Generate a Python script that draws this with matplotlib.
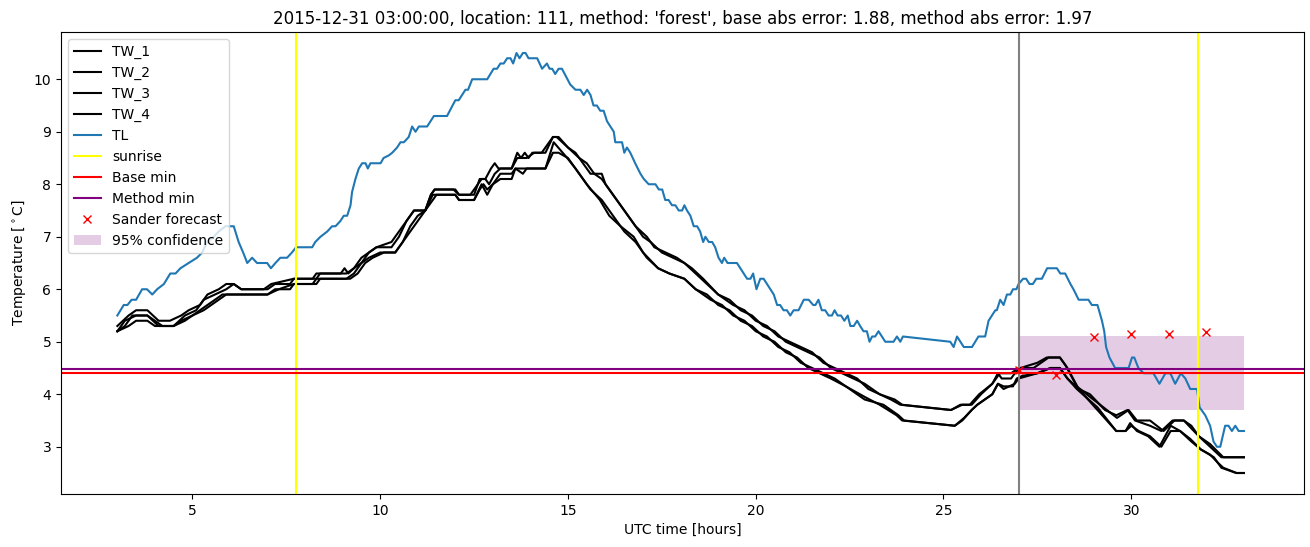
import matplotlib
matplotlib.use("Agg")
import matplotlib.pyplot as plt

# ---------------- data ----------------
tl_time = [3.00, 3.17, 3.27, 3.38, 3.50, 3.66, 3.79, 3.93, 4.06, 4.24, 4.41, 4.55, 4.68, 4.90, 5.12,
           5.26, 5.39, 5.57, 5.70, 5.88, 6.10, 6.23, 6.35, 6.46, 6.59, 6.72, 6.99, 7.09, 7.21, 7.34,
           7.52, 7.65, 7.76, 8.19, 8.27, 8.41, 8.59, 8.72, 8.81, 8.94, 9.03, 9.12, 9.21, 9.25, 9.34,
           9.43, 9.52, 9.61, 9.67, 9.74, 10.01, 10.09, 10.23, 10.32, 10.45, 10.54, 10.63, 10.76, 10.85, 10.94,
           11.03, 11.25, 11.43, 11.78, 12.00, 12.09, 12.27, 12.34, 12.45, 12.85, 13.02, 13.11, 13.20, 13.29, 13.38,
           13.47, 13.54, 13.63, 13.71, 13.80, 13.87, 13.95, 14.18, 14.31, 14.44, 14.51, 14.58, 14.66, 14.75, 14.84,
           15.06, 15.20, 15.33, 15.42, 15.51, 15.60, 15.68, 15.77, 15.86, 15.95, 16.04, 16.13, 16.22, 16.26, 16.44,
           16.50, 16.57, 16.66, 16.79, 16.93, 17.02, 17.15, 17.33, 17.42, 17.51, 17.59, 17.68, 17.77, 17.86, 17.95,
           18.04, 18.10, 18.17, 18.26, 18.35, 18.44, 18.52, 18.60, 18.66, 18.75, 18.84, 18.92, 19.01, 19.10, 19.16,
           19.25, 19.50, 19.59, 19.68, 19.77, 19.86, 19.93, 20.02, 20.12, 20.21, 20.30, 20.39, 20.48, 20.57, 20.65,
           20.74, 20.83, 20.92, 21.01, 21.14, 21.28, 21.41, 21.53, 21.59, 21.67, 21.76, 21.85, 21.94, 22.03, 22.10,
           22.18, 22.27, 22.36, 22.45, 22.52, 22.61, 22.70, 22.78, 22.87, 22.96, 23.03, 23.10, 23.18, 23.27, 23.36,
           23.45, 23.67, 23.76, 23.85, 23.92, 25.18, 25.27, 25.36, 25.45, 25.54, 25.76, 25.93, 26.11, 26.20, 26.29,
           26.38, 26.42, 26.51, 26.60, 26.69, 26.78, 26.85, 26.94, 27.00, 27.12, 27.20, 27.29, 27.38, 27.47, 27.62,
           27.76, 28.02, 28.11, 28.24, 28.38, 28.46, 28.60, 28.86, 28.95, 29.10, 29.22, 29.28, 29.33, 29.42, 29.57,
           29.93, 30.02, 30.08, 30.19, 30.33, 30.59, 30.75, 30.91, 31.04, 31.17, 31.32, 31.44, 31.57, 31.75, 31.82,
           31.97, 32.10, 32.19, 32.28, 32.37, 32.50, 32.59, 32.68, 32.77, 32.86, 33.00]
tl_value = [5.5, 5.7, 5.7, 5.8, 5.8, 6.0, 6.0, 5.9, 6.0, 6.1, 6.3, 6.3, 6.4, 6.5, 6.6,
            6.7, 6.9, 7.0, 7.1, 7.2, 7.2, 6.9, 6.7, 6.5, 6.6, 6.5, 6.5, 6.4, 6.5, 6.6,
            6.6, 6.7, 6.8, 6.8, 6.9, 7.0, 7.1, 7.2, 7.2, 7.3, 7.4, 7.4, 7.6, 7.85, 8.1,
            8.3, 8.4, 8.4, 8.3, 8.4, 8.4, 8.5, 8.55, 8.6, 8.7, 8.8, 8.8, 8.9, 9.1, 9.0,
            9.1, 9.1, 9.3, 9.3, 9.6, 9.6, 9.8, 9.8, 10.0, 10.0, 10.2, 10.2, 10.3, 10.3, 10.4,
            10.4, 10.3, 10.5, 10.4, 10.5, 10.5, 10.4, 10.4, 10.2, 10.3, 10.2, 10.2, 10.1, 10.2, 10.2,
            9.9, 9.8, 9.8, 9.7, 9.8, 9.7, 9.5, 9.5, 9.4, 9.4, 9.2, 9.1, 9.0, 8.8, 8.8,
            8.6, 8.7, 8.6, 8.4, 8.2, 8.1, 8.0, 8.0, 7.9, 7.9, 7.7, 7.7, 7.6, 7.6, 7.5,
            7.5, 7.6, 7.5, 7.4, 7.2, 7.2, 7.1, 6.9, 7.0, 6.9, 6.9, 6.8, 6.6, 6.5, 6.6,
            6.5, 6.5, 6.4, 6.3, 6.2, 6.2, 6.3, 6.0, 6.2, 6.2, 6.1, 6.0, 5.9, 5.7, 5.7,
            5.6, 5.6, 5.5, 5.6, 5.6, 5.8, 5.8, 5.7, 5.7, 5.8, 5.6, 5.6, 5.5, 5.5, 5.6,
            5.5, 5.5, 5.4, 5.5, 5.3, 5.3, 5.4, 5.3, 5.2, 5.2, 5.0, 5.1, 5.1, 5.2, 5.1,
            5.0, 5.0, 5.1, 5.0, 5.1, 5.0, 4.9, 5.1, 5.0, 4.9, 4.9, 5.1, 5.1, 5.4, 5.5,
            5.6, 5.6, 5.8, 5.7, 5.9, 5.9, 6.0, 6.0, 6.1, 6.2, 6.2, 6.1, 6.1, 6.2, 6.2,
            6.4, 6.4, 6.3, 6.3, 6.1, 6.0, 5.8, 5.8, 5.7, 5.7, 5.4, 5.2, 4.9, 4.7, 4.5,
            4.5, 4.7, 4.7, 4.5, 4.4, 4.4, 4.2, 4.4, 4.4, 4.2, 4.4, 4.3, 4.1, 4.1, 3.75,
            3.6, 3.4, 3.1, 3.0, 3.0, 3.4, 3.4, 3.3, 3.4, 3.3, 3.3]

tw1_time = [3.0, 3.3, 3.5, 3.8, 4.1, 4.4, 4.7, 4.9, 5.2, 5.4, 5.7, 5.9, 6.1, 6.3, 7.0, 7.2, 7.6, 7.7,
            8.2, 8.3, 8.95, 9.05, 9.15, 9.3, 9.5, 9.7, 9.9, 10.3, 10.5, 10.7, 10.9, 11.2, 11.35, 11.45,
            11.95, 12.1, 12.4, 12.6, 12.7, 12.8, 12.95, 13.05, 13.15, 13.5, 13.6, 13.65, 13.75, 13.85,
            13.95, 14.05, 14.3, 14.5, 14.6, 14.75, 15.0, 15.2, 15.4, 15.6, 15.9, 16.0, 16.3, 16.5, 16.8,
            17.0, 17.2, 17.5, 17.8, 18.1, 18.3, 18.6, 19.0, 19.3, 19.6, 19.9, 20.2, 20.5, 20.8, 21.1,
            21.4, 21.7, 22.0, 22.3, 22.6, 22.9, 23.3, 23.6, 23.85, 25.2, 25.45, 25.7, 25.95, 26.3, 26.45,
            26.55, 26.8, 26.9, 27.05, 27.5, 27.75, 28.1, 28.25, 28.55, 28.9, 29.35, 29.62, 29.93, 30.15,
            30.5, 30.86, 31.15, 31.4, 31.6, 31.8, 32.1, 32.45, 33.0]
tw1_value = [5.3, 5.5, 5.6, 5.6, 5.4, 5.4, 5.5, 5.6, 5.7, 5.9, 6.0, 6.1, 6.1, 6.0, 6.0, 6.1, 6.1, 6.2,
             6.2, 6.3, 6.3, 6.4, 6.3, 6.4, 6.6, 6.7, 6.8, 6.8, 7.0, 7.3, 7.5, 7.5, 7.8, 7.9,
             7.9, 7.8, 7.8, 8.0, 8.1, 8.1, 8.3, 8.4, 8.3, 8.3, 8.5, 8.6, 8.5, 8.6,
             8.5, 8.6, 8.6, 8.8, 8.9, 8.9, 8.7, 8.6, 8.4, 8.2, 8.2, 8.0, 7.7, 7.5, 7.2,
             7.0, 6.9, 6.7, 6.6, 6.5, 6.4, 6.2, 5.9, 5.8, 5.6, 5.5, 5.3, 5.2, 5.0, 4.9,
             4.8, 4.7, 4.5, 4.4, 4.3, 4.2, 4.0, 3.9, 3.8, 3.7, 3.8, 3.8, 4.0, 4.2, 4.4,
             4.3, 4.3, 4.4, 4.5, 4.6, 4.7, 4.7, 4.55, 4.15, 3.95, 3.7, 3.55, 3.7, 3.5,
             3.5, 3.3, 3.5, 3.5, 3.4, 3.2, 3.05, 2.8, 2.8]

tw2_time = [3.0, 3.2, 3.5, 3.8, 4.1, 4.5, 4.8, 5.1, 5.3, 5.6, 5.9, 6.1, 6.3, 6.9, 7.1, 7.7, 8.3, 8.4,
            9.1, 9.3, 9.5, 9.7, 9.9, 10.3, 10.5, 10.7, 10.9, 11.2, 11.35, 11.45, 12.0, 12.1, 12.5, 12.65,
            12.8, 12.9, 13.05, 13.2, 13.5, 13.65, 13.9, 14.1, 14.4, 14.6, 14.7, 15.0, 15.3, 15.5, 15.7,
            15.9, 16.1, 16.3, 16.6, 16.8, 17.1, 17.3, 17.6, 17.9, 18.1, 18.4, 18.7, 19.0, 19.4, 19.7,
            20.0, 20.3, 20.6, 20.9, 21.2, 21.5, 21.8, 22.1, 22.4, 22.7, 23.0, 23.3, 23.7, 23.9, 25.2,
            25.5, 25.75, 26.0, 26.3, 26.5, 26.8, 27.0, 27.4, 27.6, 27.8, 28.1, 28.3, 28.6, 28.9, 29.3,
            29.6, 29.9, 30.1, 30.5, 30.8, 31.1, 31.4, 31.6, 31.8, 32.1, 32.4, 33.0]
tw2_value = [5.2, 5.4, 5.5, 5.5, 5.3, 5.3, 5.5, 5.6, 5.8, 5.9, 6.0, 6.1, 6.0, 6.0, 6.1, 6.2, 6.2, 6.3,
             6.3, 6.4, 6.5, 6.7, 6.8, 6.9, 7.1, 7.3, 7.5, 7.5, 7.8, 7.9, 7.9, 7.8, 7.8, 8.1,
             8.1, 8.0, 8.2, 8.3, 8.3, 8.5, 8.5, 8.6, 8.6, 8.9, 8.9, 8.7, 8.5, 8.4, 8.2,
             8.1, 7.9, 7.7, 7.4, 7.2, 7.0, 6.8, 6.7, 6.6, 6.5, 6.3, 6.1, 5.9, 5.7, 5.6,
             5.4, 5.3, 5.1, 5.0, 4.9, 4.8, 4.6, 4.5, 4.4, 4.3, 4.1, 4.0, 3.9, 3.8, 3.7,
             3.8, 3.8, 4.0, 4.2, 4.4, 4.4, 4.5, 4.5, 4.6, 4.7, 4.7, 4.5, 4.1, 4.0, 3.7,
             3.6, 3.7, 3.5, 3.4, 3.3, 3.5, 3.5, 3.35, 3.2, 3.0, 2.8, 2.8]

tw3_time = [3.0, 3.2, 3.4, 3.8, 4.0, 4.2, 4.5, 4.7, 5.0, 5.2, 5.4, 5.6, 5.8, 7.0, 7.2, 7.6, 7.7, 8.2,
            8.3, 9.1, 9.3, 9.5, 9.7, 10.0, 10.4, 10.6, 10.8, 11.0, 11.2, 11.4, 12.0, 12.1, 12.5, 12.65,
            12.75, 12.85, 13.0, 13.2, 13.5, 13.6, 13.8, 14.4, 14.62, 14.98, 15.2, 15.5, 15.85, 16.1,
            16.4, 16.75, 17.0, 17.2, 17.4, 17.7, 18.1, 18.4, 18.7, 19.0, 19.3, 19.6, 19.9, 20.2, 20.5,
            20.8, 21.1, 21.4, 21.7, 22.0, 22.4, 22.9, 23.3, 23.75, 23.9, 25.3, 25.55, 25.75, 25.9, 26.3,
            26.45, 26.6, 26.85, 26.95, 27.1, 27.5, 27.85, 28.1, 28.3, 28.55, 29.1, 29.6, 29.85, 29.97,
            30.15, 30.45, 30.75, 31.05, 31.3, 31.57, 31.85, 32.1, 32.3, 32.45, 32.8, 33.0]
tw3_value = [5.2, 5.3, 5.5, 5.5, 5.4, 5.3, 5.3, 5.4, 5.5, 5.6, 5.7, 5.8, 5.9, 5.9, 6.0, 6.0, 6.1, 6.1,
             6.2, 6.2, 6.3, 6.5, 6.6, 6.7, 6.7, 6.9, 7.2, 7.4, 7.5, 7.8, 7.8, 7.7, 7.7, 7.9,
             8.0, 7.9, 8.0, 8.2, 8.2, 8.3, 8.3, 8.3, 8.8, 8.5, 8.3, 8.0, 7.7, 7.4,
             7.2, 7.0, 6.7, 6.55, 6.4, 6.3, 6.2, 6.0, 5.9, 5.7, 5.6, 5.4, 5.3, 5.1, 5.0,
             4.8, 4.7, 4.5, 4.4, 4.3, 4.15, 3.95, 3.8, 3.6, 3.5, 3.4, 3.55, 3.7, 3.8, 4.0,
             4.2, 4.15, 4.15, 4.3, 4.35, 4.4, 4.5, 4.5, 4.3, 4.1, 3.75, 3.3, 3.3, 3.45,
             3.3, 3.2, 3.0, 3.4, 3.3, 3.15, 2.95, 2.85, 2.7, 2.6, 2.5, 2.5]

tw4_time = [3.0, 3.3, 3.5, 3.8, 4.0, 4.5, 4.8, 5.0, 5.3, 5.5, 5.7, 5.9, 7.0, 7.3, 7.7, 8.3, 8.4, 9.2,
            9.4, 9.6, 9.8, 10.1, 10.4, 10.6, 10.8, 11.1, 11.4, 11.5, 12.0, 12.1, 12.5, 12.7, 12.85, 13.0,
            13.2, 13.5, 13.6, 13.8, 13.9, 14.4, 14.6, 14.75, 15.0, 15.3, 15.6, 15.9, 16.2, 16.5, 16.8,
            17.1, 17.4, 17.7, 18.1, 18.4, 18.8, 19.1, 19.4, 19.7, 20.0, 20.3, 20.6, 20.9, 21.2, 21.5,
            21.8, 22.1, 22.5, 22.9, 23.4, 23.8, 23.95, 25.3, 25.5, 25.75, 25.9, 26.3, 26.45, 26.6, 26.9,
            27.0, 27.5, 27.85, 28.1, 28.3, 28.6, 29.1, 29.6, 29.85, 30.0, 30.2, 30.5, 30.8, 31.05, 31.3,
            31.6, 31.85, 32.2, 32.4, 32.8, 33.0]
tw4_value = [5.2, 5.3, 5.4, 5.4, 5.3, 5.3, 5.4, 5.5, 5.6, 5.7, 5.8, 5.9, 5.9, 6.0, 6.1, 6.1, 6.2, 6.2,
             6.3, 6.5, 6.6, 6.7, 6.7, 6.9, 7.1, 7.4, 7.7, 7.8, 7.8, 7.7, 7.7, 8.0, 7.8, 8.0,
             8.1, 8.1, 8.3, 8.2, 8.3, 8.3, 8.6, 8.6, 8.5, 8.2, 7.9, 7.7, 7.4, 7.1, 6.9,
             6.6, 6.4, 6.3, 6.2, 6.0, 5.8, 5.7, 5.5, 5.4, 5.2, 5.1, 4.9, 4.8, 4.6, 4.5,
             4.4, 4.3, 4.1, 3.9, 3.8, 3.6, 3.5, 3.4, 3.5, 3.7, 3.8, 4.0, 4.2, 4.1, 4.2,
             4.3, 4.4, 4.5, 4.5, 4.3, 4.1, 3.7, 3.3, 3.3, 3.4, 3.3, 3.2, 3.0, 3.3, 3.3,
             3.1, 2.95, 2.8, 2.6, 2.5, 2.5]

sunrise_times = [7.77, 31.78]
forecast_start = 27.0
base_min = 4.40
method_min = 4.49
sander_time = [27, 28, 29, 30, 31, 32]
sander_value = [4.47, 4.36, 5.10, 5.14, 5.14, 5.18]
conf_time = [27.0, 33.0]
conf_low = 3.70
conf_high = 5.10

title = ("2015-12-31 03:00:00, location: 111, method: 'forest', "
         "base abs error: 1.88, method abs error: 1.97")

# ---------------- plot ----------------
fig = plt.figure(figsize=(13.1, 5.47), dpi=100)
ax = fig.add_axes([61 / 1310, 1 - 494 / 547, (1304 - 61) / 1310, (494 - 32) / 547])

tw_series = [("TW_1", tw1_time, tw1_value), ("TW_2", tw2_time, tw2_value),
             ("TW_3", tw3_time, tw3_value), ("TW_4", tw4_time, tw4_value)]
for name, t, v in tw_series:
    ax.plot(t, v, color="black", label=name)
ax.plot(tl_time, tl_value, color="#1f77b4", label="TL")
ax.axvline(sunrise_times[0], color="yellow", label="sunrise")
ax.axvline(sunrise_times[1], color="yellow")
ax.axvline(forecast_start, color="gray")
ax.axhline(base_min, color="red", label="Base min")
ax.axhline(method_min, color="purple", label="Method min")
ax.plot(sander_time, sander_value, "x", color="red", label="Sander forecast")
ax.fill_between(conf_time, conf_low, conf_high, color="purple", alpha=0.2,
                linewidth=0, label="95% confidence")

ax.set_xlim(1.5, 34.6)
ax.set_ylim(2.1, 10.9)
ax.set_xlabel("UTC time [hours]")
ax.set_ylabel(r"Temperature [$^\circ$C]")
ax.set_title(title)
ax.legend(loc="upper left")

fig.savefig("out.png", dpi=100)
